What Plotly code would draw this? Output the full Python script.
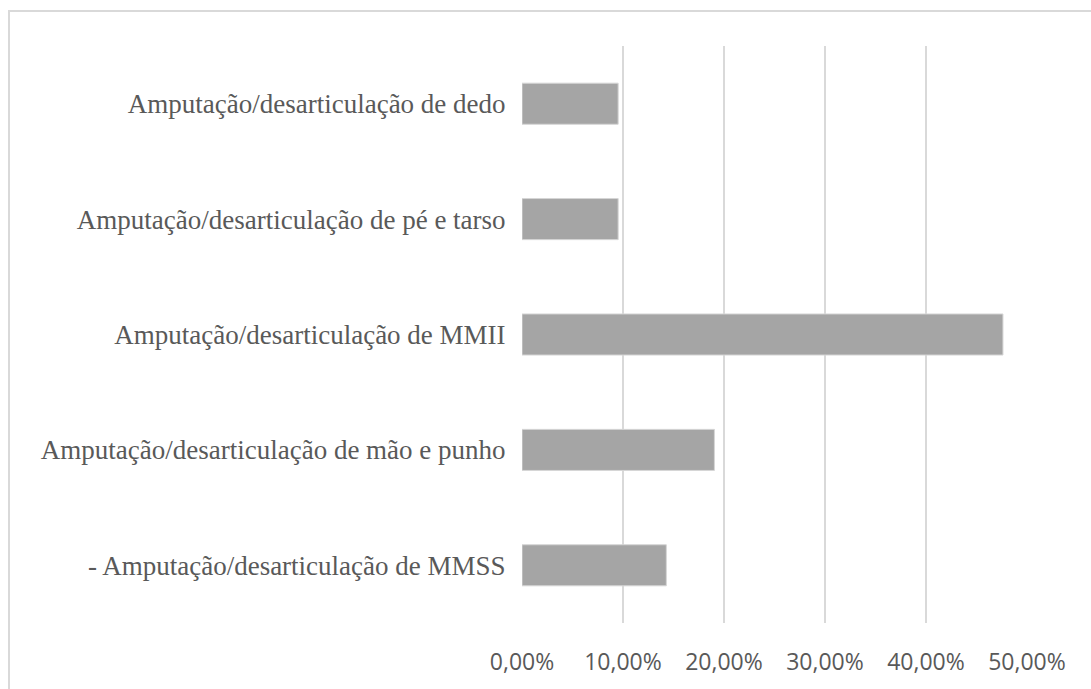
import plotly.graph_objects as go

categories = [
    "Amputação/desarticulação de dedo",
    "Amputação/desarticulação de pé e tarso",
    "Amputação/desarticulação de MMII",
    "Amputação/desarticulação de mão e punho",
    "- Amputação/desarticulação de MMSS",
]
values = [0.0952, 0.0952, 0.4762, 0.1905, 0.1429]
tick_vals = [0, 0.1, 0.2, 0.3, 0.4, 0.5]
tick_text = ["0,00%", "10,00%", "20,00%", "30,00%", "40,00%", "50,00%"]

W, H = 1091, 689
L, R, T, B = 522, 64, 46, 66
pw, ph = W - L - R, H - T - B

fig = go.Figure(
    go.Bar(
        x=values,
        y=categories,
        orientation="h",
        marker=dict(color="#a5a5a5", line=dict(color="#d6d6d6", width=1)),
        hoverinfo="skip",
    )
)

fig.update_layout(
    width=W,
    height=H,
    margin=dict(l=L, r=R, t=T, b=B, pad=0),
    paper_bgcolor="white",
    plot_bgcolor="white",
    bargap=0.644,
    showlegend=False,
    xaxis=dict(
        range=[0, 0.5],
        tickvals=tick_vals,
        ticktext=tick_text,
        showgrid=True,
        gridcolor="#d9d9d9",
        gridwidth=2,
        zeroline=False,
        showline=False,
        ticks="outside",
        ticklen=18,
        tickcolor="rgba(0,0,0,0)",
        tickfont=dict(family="Open Sans", size=23, color="#595959"),
        fixedrange=True,
    ),
    yaxis=dict(
        autorange="reversed",
        showgrid=False,
        zeroline=False,
        showline=False,
        ticks="outside",
        ticklen=10,
        tickcolor="rgba(0,0,0,0)",
        tickfont=dict(family="Liberation Serif", size=27, color="#595959"),
        fixedrange=True,
    ),
    shapes=[
        dict(
            type="rect",
            xref="paper",
            yref="paper",
            x0=(9 - L) / pw,
            x1=(W + 20 - L) / pw,
            y0=-(B + 20) / ph,
            y1=(H - B - 11) / ph,
            line=dict(color="#d9d9d9", width=2),
            fillcolor="rgba(0,0,0,0)",
            layer="below",
        )
    ],
)

fig.write_html("out.html")
